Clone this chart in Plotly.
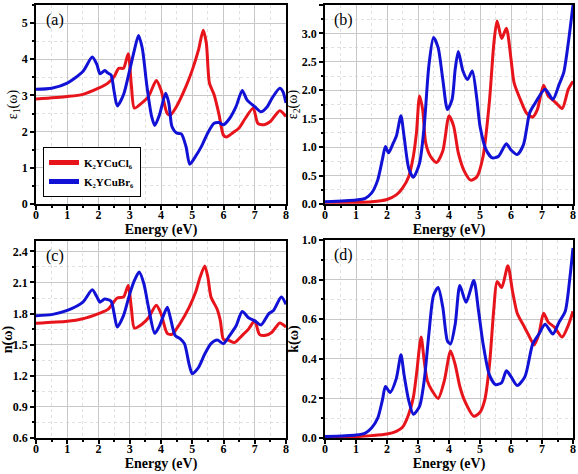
import plotly.graph_objects as go

# ---------------- data ----------------
# (a) epsilon_1
e1_cl_x = [0, 1, 1.5, 2, 2.3, 2.5, 2.65, 2.8, 2.95, 3.05, 3.15, 3.4, 3.6, 3.85, 4.0, 4.2, 4.3, 4.5, 4.8, 5.0, 5.2, 5.35, 5.45, 5.55, 5.7, 5.85, 6.0, 6.1, 6.3, 6.5, 6.7, 6.95, 7.1, 7.3, 7.5, 7.8, 8.0]
e1_cl_y = [2.90, 2.97, 3.03, 3.2, 3.34, 3.52, 3.75, 3.75, 4.15, 3.3, 2.65, 2.8, 2.97, 3.41, 3.15, 2.5, 2.46, 2.7, 3.25, 3.7, 4.26, 4.8, 4.45, 3.34, 3.02, 2.5, 1.9, 1.85, 1.97, 2.1, 2.37, 2.65, 2.23, 2.19, 2.28, 2.58, 2.42]
e1_br_x = [0, 0.5, 1, 1.5, 1.8, 1.95, 2.05, 2.2, 2.3, 2.4, 2.5, 2.6, 2.8, 3.0, 3.15, 3.28, 3.4, 3.55, 3.7, 3.8, 3.95, 4.15, 4.25, 4.35, 4.5, 4.65, 4.8, 4.92, 5.1, 5.3, 5.5, 5.7, 5.85, 6.0, 6.2, 6.4, 6.6, 6.75, 7.0, 7.2, 7.4, 7.55, 7.8, 7.9, 8.0]
e1_br_y = [3.17, 3.2, 3.34, 3.66, 4.06, 3.85, 3.6, 3.69, 3.62, 3.57, 3.11, 2.71, 3.02, 3.71, 4.26, 4.66, 4.31, 3.25, 2.42, 2.17, 2.46, 3.06, 2.79, 2.14, 1.96, 1.94, 1.59, 1.1, 1.31, 1.6, 1.97, 2.23, 2.25, 2.19, 2.37, 2.69, 3.14, 2.88, 2.69, 2.55, 2.69, 2.92, 3.2, 3.11, 2.79]

# (b) epsilon_2
e2_cl_x = [0, 1, 1.5, 2, 2.3, 2.5, 2.7, 2.85, 2.95, 3.05, 3.15, 3.25, 3.4, 3.6, 3.8, 4.0, 4.15, 4.3, 4.5, 4.7, 4.9, 5.1, 5.3, 5.45, 5.55, 5.7, 5.85, 6.0, 6.1, 6.3, 6.5, 6.7, 6.85, 7.05, 7.2, 7.45, 7.65, 7.85, 8.0]
e2_cl_y = [0.03, 0.03, 0.04, 0.08, 0.16, 0.28, 0.48, 0.84, 1.25, 1.9, 1.66, 1.07, 0.84, 0.73, 0.93, 1.55, 1.37, 0.9, 0.57, 0.42, 0.48, 0.84, 1.78, 2.84, 3.22, 2.91, 3.09, 2.55, 2.13, 1.84, 1.6, 1.53, 1.66, 2.09, 1.9, 1.78, 1.68, 2.02, 2.16]
e2_br_x = [0, 1, 1.3, 1.5, 1.7, 1.85, 1.95, 2.05, 2.2, 2.3, 2.45, 2.55, 2.7, 2.85, 3.05, 3.2, 3.35, 3.5, 3.65, 3.8, 3.95, 4.1, 4.2, 4.3, 4.45, 4.6, 4.75, 4.9, 5.0, 5.2, 5.4, 5.6, 5.85, 6.0, 6.2, 6.4, 6.6, 6.75, 7.1, 7.35, 7.55, 7.7, 7.85, 8.0]
e2_br_y = [0.04, 0.07, 0.1, 0.19, 0.42, 0.78, 1.01, 0.9, 1.07, 1.19, 1.55, 1.19, 0.63, 0.47, 0.72, 1.37, 2.43, 2.93, 2.75, 2.19, 1.66, 1.84, 2.37, 2.68, 2.34, 2.19, 2.34, 1.84, 1.37, 0.95, 0.81, 0.84, 1.06, 0.95, 0.87, 1.04, 1.6, 1.75, 2.02, 1.84, 2.1, 2.31, 2.84, 3.5]

# (c) refractive index n
n_cl_x = [0, 1, 1.5, 2, 2.3, 2.6, 2.8, 2.95, 3.05, 3.15, 3.4, 3.6, 3.85, 4.0, 4.2, 4.35, 4.6, 4.9, 5.1, 5.25, 5.4, 5.5, 5.6, 5.8, 5.9, 6.0, 6.15, 6.35, 6.6, 6.8, 7.0, 7.15, 7.35, 7.55, 7.8, 8.0]
n_cl_y = [1.706, 1.725, 1.75, 1.8, 1.84, 1.95, 1.96, 2.07, 1.86, 1.66, 1.7, 1.76, 1.88, 1.8, 1.61, 1.6, 1.7, 1.86, 2.0, 2.15, 2.26, 2.15, 1.96, 1.84, 1.73, 1.55, 1.545, 1.52, 1.59, 1.65, 1.73, 1.6, 1.59, 1.62, 1.71, 1.67]
n_br_x = [0, 0.5, 1, 1.5, 1.8, 1.95, 2.05, 2.2, 2.4, 2.5, 2.6, 2.8, 3.0, 3.15, 3.3, 3.45, 3.6, 3.8, 3.95, 4.2, 4.3, 4.45, 4.6, 4.75, 4.9, 5.0, 5.2, 5.4, 5.6, 5.8, 6.0, 6.2, 6.4, 6.6, 6.8, 7.0, 7.2, 7.45, 7.6, 7.85, 8.0]
n_br_y = [1.78, 1.79, 1.83, 1.91, 2.03, 1.96, 1.91, 1.94, 1.92, 1.8, 1.67, 1.78, 1.99, 2.12, 2.2, 2.09, 1.86, 1.61, 1.68, 1.86, 1.76, 1.59, 1.56, 1.51, 1.31, 1.22, 1.28, 1.41, 1.51, 1.545, 1.51, 1.59, 1.68, 1.82, 1.76, 1.73, 1.69, 1.8, 1.83, 1.96, 1.89]

# (d) extinction coefficient k
k_cl_x = [0, 1, 1.5, 2, 2.3, 2.5, 2.7, 2.85, 2.95, 3.1, 3.2, 3.3, 3.45, 3.65, 3.85, 4.05, 4.2, 4.35, 4.5, 4.8, 5.0, 5.15, 5.3, 5.45, 5.55, 5.7, 5.9, 6.05, 6.2, 6.4, 6.55, 6.75, 6.9, 7.05, 7.2, 7.4, 7.65, 7.85, 8.0]
k_cl_y = [0.005, 0.007, 0.012, 0.02, 0.034, 0.054, 0.12, 0.205, 0.32, 0.51, 0.39, 0.29, 0.24, 0.2, 0.29, 0.44, 0.37, 0.26, 0.19, 0.11, 0.13, 0.19, 0.36, 0.66, 0.79, 0.76, 0.87, 0.74, 0.63, 0.57, 0.525, 0.47, 0.525, 0.63, 0.585, 0.56, 0.51, 0.57, 0.64]
k_br_x = [0, 1, 1.3, 1.5, 1.7, 1.85, 1.95, 2.1, 2.3, 2.45, 2.55, 2.7, 2.85, 3.05, 3.2, 3.35, 3.5, 3.65, 3.8, 3.95, 4.05, 4.2, 4.35, 4.55, 4.8, 4.95, 5.1, 5.3, 5.5, 5.7, 5.85, 6.0, 6.2, 6.45, 6.7, 6.9, 7.1, 7.35, 7.55, 7.75, 7.9, 8.0]
k_br_y = [0.007, 0.015, 0.025, 0.05, 0.1, 0.19, 0.26, 0.23, 0.3, 0.42, 0.32, 0.19, 0.12, 0.16, 0.29, 0.525, 0.72, 0.76, 0.66, 0.49, 0.475, 0.575, 0.77, 0.685, 0.795, 0.645, 0.475, 0.32, 0.27, 0.28, 0.34, 0.31, 0.265, 0.31, 0.475, 0.525, 0.575, 0.525, 0.585, 0.64, 0.81, 0.96]

series_names = ["K₂YCuCl₆", "K₂YCuBr₆"]
panel_labels = ["(a)", "(b)", "(c)", "(d)"]
y_titles = ["ε<sub>1</sub>(ω)", "ε<sub>2</sub>(ω)", "n(ω)", "k(ω)"]
x_title = "Energy (eV)"

# ---------------- styling ----------------
RED = "#e8141c"
BLUE = "#1212d6"
FONT = "Liberation Serif"
W, H = 578, 474

def px_x(p):
    return p / W

def px_y(p):
    return 1 - p / H

doms = [
    ([px_x(36), px_x(286)], [px_y(204), px_y(5)]),
    ([px_x(325), px_x(573)], [px_y(204), px_y(5)]),
    ([px_x(36), px_x(286)], [px_y(438), px_y(241)]),
    ([px_x(325), px_x(573)], [px_y(438), px_y(240)]),
]
yranges = [[0, 5.5], [0, 3.5], [0.6, 2.5], [0, 1.0]]
ydticks = [1, 0.5, 0.3, 0.2]
yfmt = ["d", ".1f", ".1f", ".1f"]

data = [
    (e1_cl_x, e1_cl_y, e1_br_x, e1_br_y),
    (e2_cl_x, e2_cl_y, e2_br_x, e2_br_y),
    (n_cl_x, n_cl_y, n_br_x, n_br_y),
    (k_cl_x, k_cl_y, k_br_x, k_br_y),
]

fig = go.Figure()
for i, (xc, yc, xb, yb) in enumerate(data):
    sfx = "" if i == 0 else str(i + 1)
    fig.add_trace(go.Scatter(x=xc, y=yc, mode="lines", name=series_names[0],
                             line=dict(color=RED, width=3, shape="spline", smoothing=0.7),
                             xaxis="x" + sfx, yaxis="y" + sfx, showlegend=(i == 0)))
    fig.add_trace(go.Scatter(x=xb, y=yb, mode="lines", name=series_names[1],
                             line=dict(color=BLUE, width=3, shape="spline", smoothing=0.7),
                             xaxis="x" + sfx, yaxis="y" + sfx, showlegend=(i == 0)))

layout = dict(
    width=W, height=H, margin=dict(l=0, r=0, t=0, b=0, autoexpand=False),
    paper_bgcolor="white", plot_bgcolor="white",
    font=dict(family=FONT, color="black"),
    showlegend=True,
    legend=dict(x=px_x(43), y=px_y(147), xanchor="left", yanchor="top",
                bgcolor="white", bordercolor="black", borderwidth=1,
                font=dict(family=FONT, size=11, color="black", weight="bold"),
                tracegroupgap=0, itemwidth=30, itemsizing="constant"),
)
annotations = []
for i in range(4):
    sfx = "" if i == 0 else str(i + 1)
    xd, yd = doms[i]
    layout["xaxis" + sfx] = dict(
        domain=xd, anchor="y" + sfx, range=[0, 8], dtick=1, automargin=False,
        showline=True, linecolor="black", linewidth=1.5, mirror=True,
        ticks="outside", ticklen=4, tickwidth=1.5, tickcolor="black",
        ticklabelstandoff=-5,
        tickfont=dict(family=FONT, size=12, color="black", weight="bold"),
        showgrid=True, gridcolor="#c8c8c8", gridwidth=1, zeroline=False,
        minor=dict(dtick=0.5, ticks="outside", ticklen=2, tickcolor="black",
                   showgrid=True, gridcolor="#e0e0e0", griddash="dot"),
        title=dict(text=x_title, standoff=0,
                   font=dict(family=FONT, size=14, color="black", weight="bold")),
    )
    layout["yaxis" + sfx] = dict(
        domain=yd, anchor="x" + sfx, range=yranges[i], dtick=ydticks[i], automargin=False,
        tick0=yranges[i][0], tickformat=yfmt[i],
        showline=True, linecolor="black", linewidth=1.5, mirror=True,
        ticks="outside", ticklen=4, tickwidth=1.5, tickcolor="black",
        tickfont=dict(family=FONT, size=12, color="black", weight="bold"),
        showgrid=True, gridcolor="#c8c8c8", gridwidth=1, zeroline=False,
        minor=dict(dtick=ydticks[i] / 2, ticks="outside", ticklen=2, tickcolor="black",
                   showgrid=True, gridcolor="#e0e0e0", griddash="dot"),
        title=dict(text=y_titles[i], standoff=0,
                   font=dict(family=FONT, size=14, color="black",
                             weight="normal" if i < 2 else "bold")),
    )
    annotations.append(dict(text=panel_labels[i], xref="x" + sfx + " domain", yref="y" + sfx + " domain",
                            x=0.03, y=0.98, xanchor="left", yanchor="top", showarrow=False,
                            font=dict(family=FONT, size=16, color="black")))
layout["annotations"] = annotations
# legend shadow (drawn beneath the legend box, offset down-right)
layout["shapes"] = [dict(type="rect", xref="paper", yref="paper",
                         x0=px_x(47), x1=px_x(141), y0=px_y(193), y1=px_y(150),
                         fillcolor="black", line=dict(width=0), layer="above")]
fig.update_layout(**layout)
fig.write_html("out.html", config={"displayModeBar": False},
               post_script="document.body.style.margin='0px';")
